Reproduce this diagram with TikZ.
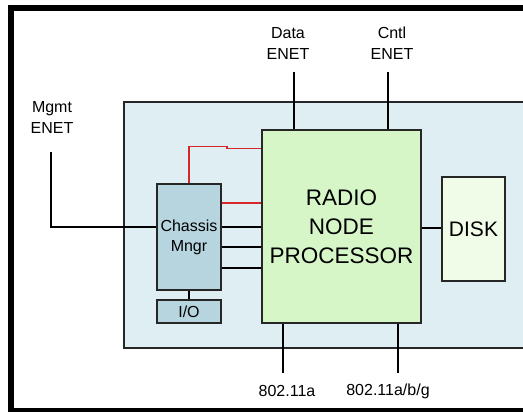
\documentclass[tikz,border=0pt]{standalone}
\usepackage{fontspec}
\setmainfont{Liberation Sans}
\usetikzlibrary{calc}
\definecolor{shelfblue}{RGB}{223,238,242}
\definecolor{mgrblue}{RGB}{183,213,223}
\definecolor{procgreen}{RGB}{215,246,200}
\definecolor{diskgreen}{RGB}{240,252,232}
\definecolor{linkred}{RGB}{214,40,40}

\begin{document}
\begin{tikzpicture}[x=1pt,y=-1pt,
  box/.style={draw=black!85,line width=1.5pt,inner sep=0pt,align=center},
  wire/.style={line width=1.5pt},
  lbl/.style={align=center,inner sep=0pt,font=\fontsize{16}{21}\selectfont}]
  \useasboundingbox (0,0) rectangle (523,412);
  \fill[white] (0,0) rectangle (523,412);
  \draw[line width=6pt] (523,8.5) -- (11,8.5) -- (11,410.5) -- (523,410.5);
  \fill[shelfblue] (124,102) rectangle (523,348);
  \draw[line width=1.5pt,black!85] (523,102) -- (124,102) -- (124,348) -- (523,348);

  \node[box,fill=procgreen,minimum width=159pt,minimum height=193pt,font=\fontsize{22.5}{29}\selectfont] (rnp) at (341.5,226.5) {RADIO\\NODE\\PROCESSOR};
  \node[box,fill=mgrblue,minimum width=64pt,minimum height=106pt,font=\fontsize{16}{20}\selectfont] (cmgr) at (189,237) {Chassis\\Mngr};
  \node[box,fill=mgrblue,minimum width=64pt,minimum height=23pt,font=\fontsize{16}{20}\selectfont] (io) at (189,311.5) {I/O};
  \node[box,fill=diskgreen,minimum width=63pt,minimum height=104pt,font=\fontsize{21}{25}\selectfont] (disk) at (473.5,229) {DISK};

  \node[lbl] (data) at (288,43) {Data\\ENET};
  \node[lbl] (cntl) at (392,43) {Cntl\\ENET};
  \node[lbl] (mgmt) at (52,117) {Mgmt\\ENET};
  \node[lbl] (wa) at (287,391) {802.11a};
  \node[lbl] (wabg) at (388,391) {802.11a/b/g};

  \coordinate (dtop) at (294,72);
  \coordinate (ctop) at (388,72);
  \coordinate (mtop) at (51,152);
  \coordinate (abot) at (283,373);
  \coordinate (gbot) at (398,373);

  \draw[wire] (dtop) -- (dtop |- rnp.north);
  \draw[wire] (ctop) -- (ctop |- rnp.north);
  \draw[wire] (abot |- rnp.south) -- (abot);
  \draw[wire] (gbot |- rnp.south) -- (gbot);
  \draw[wire] (mtop) |- (cmgr.west |- 0,227);
  \draw[wire] (cmgr.south) -- (io.north);
  \draw[wire] (rnp.east |- 0,228) -- (disk.west |- 0,228);
  \foreach \y in {227,247,268}
    \draw[wire] (cmgr.east |- 0,\y) -- (rnp.west |- 0,\y);
  \draw[wire,linkred] (cmgr.north) |- (227,146.5) -- (227,148.5) -- (rnp.west |- 0,148.5);
  \draw[wire,linkred] (cmgr.east |- 0,203) -- (rnp.west |- 0,203);
\end{tikzpicture}
\end{document}
